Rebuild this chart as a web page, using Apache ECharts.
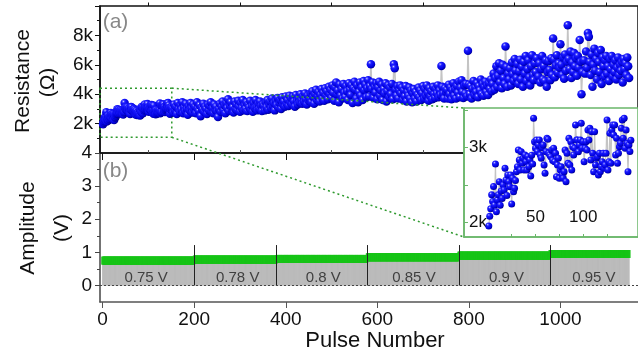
<!DOCTYPE html>
<html><head><meta charset="utf-8">
<script src="https://cdn.jsdelivr.net/npm/echarts@6/dist/echarts.min.js"></script>
<style>html,body{margin:0;padding:0;background:#fff}#c{width:638px;height:358px}</style>
</head><body><div id="c"></div>
<script>
// ---------- data ----------
const xMajorTicks = [0, 200, 400, 600, 800, 1000];
const xMinorTicks = [100, 300, 500, 700, 900, 1100];
const ampTicks = [0, 1, 2, 3, 4];
const ampMinorTicks = [0.5, 1.5, 2.5, 3.5];
const insetXLabels = [50, 100];
const insetXTicks = [25, 50, 75, 100, 125];
const insetYLabels = [2000, 3000];
const insetYTicks = [2000, 2500, 3000, 3500];

// resistance (ohm), pulses 1..150 (one per pulse)
const resEarly = [
1950,2080,2180,2370,2280,2480,2230,2780,2140,2300,
2370,2545,2230,2420,2320,2500,2433,2724,2567,2360,
2634,2545,2477,2634,2245,2590,2410,2455,2560,2678,
2745,2969,2835,2700,2947,2790,2858,2701,2902,2812,
2701,2880,2745,2835,2620,2900,2780,3394,3080,2992,
3103,2947,3036,3103,2902,2860,3000,3036,2768,2657,
2947,3126,3112,2925,2902,2880,2969,2830,2992,2812,
2925,2611,2768,2858,2590,2701,2745,2634,2590,2678,
2969,2545,2925,2790,3126,2768,3080,2701,3013,2902,
2992,3304,3103,3103,2947,3036,3103,3327,2992,3080,
2812,2992,3080,2969,3237,3103,3260,2835,3215,2925,
2678,3215,2768,2858,2880,2634,2925,2678,2745,2812,
2925,2724,2768,2925,3371,2701,2812,3193,2790,3237,
3304,3170,3304,2902,3126,2790,2925,3013,3058,3260,
3371,3126,3394,2992,3237,3058,2678,3036,2950,3100];

// later pulses: each block holds every 2nd pulse after its start
const lateStep = 2;
const lateStarts = [150, 250, 350, 450, 550, 650, 750, 850, 950, 1050];
const res150 = [3050,2750,3300,2900,3150,2650,3400,3000,2800,3250,2950,3450,2700,3100,2850,3350,3000,2600,3200,2900,3400,3050,2750,3300,2950,3150,2700,3450,3000,2850,3250,2500,3100,2950,3350,2800,3150,3000,2650,3300,2900,3200,3450,2800,3050,2700,3300,2950,3150,2850];
const res250 = [2450,3000,3350,2800,3150,3500,2900,3250,2700,3400,3050,3650,2850,3200,3450,2950,3100,2750,3500,3000,3300,2900,3550,3150,2800,3400,3050,3600,2900,3250,3000,3450,2850,3300,3100,3550,2950,3200,2800,3400,3050,3600,3150,2900,3350,3000,3500,3200,2850,3300];
const res350 = [3200,2900,3450,3100,3600,2950,3300,3500,3050,3700,3200,3400,2900,3550,3250,3750,3100,3400,3600,3000,3800,3300,3500,3150,3850,3350,3600,3200,3900,3450,3700,3300,3850,3500,3150,3950,3550,3300,3750,3450,4000,3600,3350,3850,3500,4050,3650,3300,3900,3550];
const res450 = [3700,4050,3450,4200,3800,3350,4000,4300,3600,3850,4150,3500,3950,4350,3700,4100,3550,4400,3900,4200,3650,4500,4000,4300,3750,4600,4100,3550,4450,4800,4000,4250,3450,4650,3900,4350,3700,4700,4100,3800,4550,4200,3600,4750,4300,3950,4600,3400,4400,4850];
const res550 = [4300,3700,4600,3450,4150,4800,3900,4450,3600,4900,4250,4650,3800,4400,4950,3850,4550,6030,4350,4800,3750,4500,4100,4750,3650,4450,4850,3900,4250,4650,3600,4350,4050,4750,3500,4200,4600,3800,4450,4000,4700,3650,6030,5760,4300,3900,4550,3700,4250,4600];
const res650 = [4050,4450,3600,4250,3850,4550,3500,4150,3900,4450,3700,4250,3450,4050,4350,3700,4150,3500,3950,4450,3800,4250,3600,4050,4550,3700,4350,3900,4600,4100,3550,4400,3850,4200,3650,4500,4000,3750,4350,4050,4600,3800,4250,3950,5920,4500,4050,3700,4400,4150];
const res750 = [4300,3700,4650,4000,4450,3650,4250,4750,3900,4350,3700,4550,4100,4850,3800,4450,4950,4150,3750,4600,4050,4700,3850,6950,4650,4000,4550,3700,4350,4900,3950,4450,4150,4750,3800,4550,4250,5000,4000,4700,3900,4500,4850,4150,4600,3950,4750,4350,5000,4200];
const res850 = [4700,5400,4300,5100,5900,4500,5250,6100,4800,5600,4400,6000,5100,4700,7250,5850,4500,5400,5000,5750,4600,6150,5350,4900,6400,5600,5100,6050,4700,5550,6350,5000,5850,4500,6200,5400,6600,4900,5700,6300,5150,4600,5900,6650,5300,4950,6100,5500,6450,5000];
const res950 = [5200,6100,4800,5700,6600,5000,5900,4900,6300,4500,5500,6250,5650,4950,6450,5300,7790,6350,5150,5950,6650,5450,6100,5800,7400,6000,5300,6500,5050,6700,5600,6200,8690,6400,5700,6900,5100,6150,5500,6800,5900,6450,5250,6600,5800,7680,6200,4000,5500,6300];
const res1050 = [6300,5400,6900,5800,8170,7900,6200,5300,6700,4500,6000,7100,5600,6400,5000,6800,6200,5500,7000,4700,6500,5900,5200,6300,6600,5400,5900,4900,6400,5700,6600,5200,6000,5500,6300,5000,5800,6500,5300,6000,5600,6200,4800,6400,5700,6100,5300,6500,5900,5100];
const lateBlocks = [res150,res250,res350,res450,res550,res650,res750,res850,res950,res1050];

// pulse amplitude program (V)
const ampStarts = [0, 200, 380, 578, 778, 977];
const ampValues = [0.75, 0.78, 0.8, 0.85, 0.9, 0.95];
const ampLastPulse = 1150;
const ampLabels = ['0.75 V', '0.78 V', '0.8 V', '0.85 V', '0.9 V', '0.95 V'];
const ampLabelPulses = [95, 295, 482, 680, 882, 1073];
const ampLabelLevel = 0.24;

// zoomed window marked in panel (a)
const zoomPulse = [-5.8, 151];
const zoomRes = [1070, 4410];

// ---------- build ----------
const mainData = resEarly.map((v, i) => [i + 1, v]);
lateBlocks.forEach((blk, b) => blk.forEach((v, i) => mainData.push([lateStarts[b] + lateStep * (i + 1), v])));
const insetData = resEarly.map((v, i) => [i + 1, v]);

const ampData = [];
for (let p = 0; p <= ampLastPulse; p++) {
  let s = 0;
  for (let k = 0; k < ampStarts.length; k++) if (p >= ampStarts[k]) s = k;
  ampData.push([p, ampValues[s]]);
}
const sepLines = ampStarts.slice(1).map(p => [{coord: [p, 0]}, {coord: [p, 1.22]}]);

const FONT = 'Liberation Sans, Arial, sans-serif';
const GREEN = '#6ab66a';
const ball = {type: 'radial', x: 0.35, y: 0.3, r: 0.72, colorStops: [
  {offset: 0, color: '#e4e4ff'}, {offset: 0.1, color: '#7272ff'},
  {offset: 0.3, color: '#1a1aff'}, {offset: 0.8, color: '#0000d8'}, {offset: 1, color: '#00008c'}]};

const XMIN = -5.8, XMAX = 1169.4;
const chart = echarts.init(document.getElementById('c'), null, {renderer: 'canvas'});
const tickLbl = {fontFamily: FONT, fontSize: 19, color: '#111'};

const option = {
  animation: false,
  backgroundColor: '#fff',
  grid: [
    {left: 100, top: 6, width: 548, height: 147, show: true, borderColor: '#111', borderWidth: 1.5, backgroundColor: 'transparent'},
    {left: 100, top: 153, width: 548, height: 149},
    {left: 464, top: 108, width: 184, height: 129, show: true, z: 5, backgroundColor: '#fff', borderColor: GREEN, borderWidth: 1.5}
  ],
  xAxis: [
    {gridIndex: 0, type: 'value', min: XMIN, max: XMAX, splitLine: {show: false},
     axisLine: {onZero: false, lineStyle: {color: '#111', width: 1.5}},
     axisTick: {customValues: xMajorTicks, length: 7, lineStyle: {color: '#111'}}, axisLabel: {show: false}},
    {gridIndex: 0, type: 'value', min: XMIN, max: XMAX, splitLine: {show: false},
     axisLine: {show: false, onZero: false},
     axisTick: {customValues: xMinorTicks, length: 3.5, lineStyle: {color: '#111'}}, axisLabel: {show: false}},
    {gridIndex: 1, type: 'value', min: XMIN, max: XMAX, splitLine: {show: false},
     axisLine: {onZero: false, lineStyle: {color: '#555', width: 1.5}},
     axisTick: {customValues: xMajorTicks, length: 6, lineStyle: {color: '#555'}},
     axisLabel: Object.assign({customValues: xMajorTicks, margin: 8, formatter: v => String(v)}, tickLbl)},
    {gridIndex: 1, type: 'value', min: XMIN, max: XMAX, splitLine: {show: false},
     axisLine: {show: false, onZero: false},
     axisTick: {customValues: xMinorTicks, length: 3, lineStyle: {color: '#555'}}, axisLabel: {show: false}},
    {gridIndex: 2, type: 'value', min: -25, max: 157.5, z: 6, splitLine: {show: false},
     axisLine: {onZero: false, lineStyle: {color: GREEN, width: 1.5}},
     axisTick: {inside: true, customValues: insetXTicks, length: 3, lineStyle: {color: GREEN}},
     axisLabel: {inside: true, customValues: insetXLabels, margin: 11, fontFamily: FONT, fontSize: 17, color: '#111'}}
  ],
  yAxis: [
    {gridIndex: 0, type: 'value', min: 0, max: 10000, interval: 2000, position: 'left', splitLine: {show: false},
     axisLine: {show: true, onZero: false, lineStyle: {color: '#111', width: 1.5}},
     axisTick: {show: true, length: 5, lineStyle: {color: '#111'}},
     minorTick: {show: true, splitNumber: 2, length: 3, lineStyle: {color: '#111'}},
     axisLabel: Object.assign({showMinLabel: false, showMaxLabel: false, margin: 7, formatter: v => (v / 1000) + 'k'}, tickLbl)},
    {gridIndex: 1, type: 'value', min: -0.5, max: 4, position: 'left', offset: 0, splitLine: {show: false},
     axisLine: {show: true, onZero: false, lineStyle: {color: '#444', width: 1.5}},
     axisTick: {show: true, customValues: ampTicks, length: 5, lineStyle: {color: '#444'}},
     axisLabel: Object.assign({customValues: ampTicks, margin: 8}, tickLbl)},
    {gridIndex: 1, type: 'value', min: -0.5, max: 4, position: 'left', offset: 0, splitLine: {show: false},
     axisLine: {show: false, onZero: false},
     axisTick: {show: true, customValues: ampMinorTicks, length: 3, lineStyle: {color: '#444'}}, axisLabel: {show: false}},
    {gridIndex: 2, type: 'value', min: 1803, max: 3532, position: 'left', z: 6, splitLine: {show: false},
     axisLine: {show: true, onZero: false, lineStyle: {color: GREEN, width: 1.5}},
     axisTick: {show: true, inside: true, customValues: insetYTicks, length: 4, lineStyle: {color: GREEN}},
     axisLabel: {inside: true, customValues: insetYLabels, margin: 5, fontFamily: FONT, fontSize: 17, color: '#111', formatter: v => (v / 1000) + 'k'}}
  ],
  series: [
    {type: 'line', xAxisIndex: 0, yAxisIndex: 0, data: mainData, z: 2,
     symbol: 'circle', symbolSize: 8.5, showAllSymbol: true,
     itemStyle: {color: ball}, lineStyle: {color: '#c4c4c4', width: 1.5},
     markArea: {silent: true, data: [[{coord: [zoomPulse[0], zoomRes[1]]}, {coord: [zoomPulse[1], zoomRes[0]]}]],
       itemStyle: {color: 'rgba(0,0,0,0)', borderColor: '#2f9a2f', borderWidth: 1.5, borderType: [2, 3]}}},
    {type: 'line', xAxisIndex: 4, yAxisIndex: 3, data: insetData, z: 7,
     symbol: 'circle', symbolSize: 7, showAllSymbol: true,
     itemStyle: {color: ball}, lineStyle: {color: '#c4c4c4', width: 1.2}},
    {type: 'bar', xAxisIndex: 2, yAxisIndex: 1, data: ampData, barWidth: 1, z: 2,
     itemStyle: {color: '#bababa'},
     markLine: {silent: true, symbol: 'none', label: {show: false},
       data: sepLines.concat([{yAxis: 0, lineStyle: {color: '#444', type: [2, 2], width: 1}}]),
       lineStyle: {color: '#222', width: 1, type: 'solid'}}},
    {type: 'scatter', xAxisIndex: 2, yAxisIndex: 1, data: ampData, z: 3,
     symbol: 'rect', symbolSize: [3, 8], itemStyle: {color: '#16c416'}},
    {type: 'scatter', xAxisIndex: 2, yAxisIndex: 1, z: 4, symbolSize: 0,
     data: ampLabels.map((t, i) => ({name: t, value: [ampLabelPulses[i], ampLabelLevel]})),
     label: {show: true, position: 'inside', formatter: p => p.name, fontFamily: FONT, fontSize: 15, color: '#222'}}
  ]
};
chart.setOption(option);

const a1 = chart.convertToPixel({seriesIndex: 0}, [zoomPulse[1], zoomRes[1]]);
const a2 = chart.convertToPixel({seriesIndex: 0}, [zoomPulse[1], zoomRes[0]]);
const b1 = chart.convertToPixel({seriesIndex: 1}, [-25, 3532]);
const b2 = chart.convertToPixel({seriesIndex: 1}, [-25, 1803]);
const dot = {stroke: '#2f9a2f', lineWidth: 1.5, lineDash: [2, 3]};
const txt = (t, x, y, size, rot, color) => ({type: 'text', x, y, rotation: rot, z: 20,
  style: {text: t, fontFamily: FONT, fontSize: size, fill: color || '#111', align: 'center', verticalAlign: 'middle'}});
chart.setOption({graphic: [
  {type: 'line', z: 10, shape: {x1: a1[0], y1: a1[1], x2: b1[0], y2: b1[1]}, style: dot},
  {type: 'line', z: 10, shape: {x1: a2[0], y1: a2[1], x2: b2[0], y2: b2[1]}, style: dot},
  txt('Resistance', 23.5, 81, 21, Math.PI / 2),
  txt('(Ω)', 48, 82.5, 21, Math.PI / 2),
  txt('Amplitude', 28.5, 228, 21, Math.PI / 2),
  txt('(V)', 62.5, 228, 21, Math.PI / 2),
  txt('Pulse Number', 375, 341, 22, 0),
  txt('(a)', 115.5, 22.5, 21, 0, '#888'),
  txt('(b)', 115.5, 171.5, 21, 0, '#888')
]});
</script></body></html>
